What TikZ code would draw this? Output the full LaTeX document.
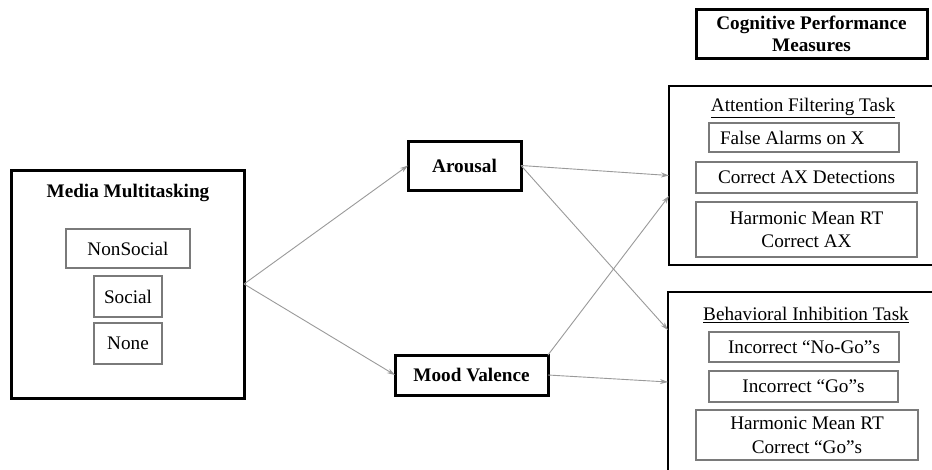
\documentclass[tikz,border=0pt]{standalone}
\usepackage{fontspec}
\setmainfont{Liberation Serif}
\usetikzlibrary{arrows.meta}
\definecolor{boxgray}{HTML}{7A7A7A}
\definecolor{arrgray}{HTML}{9A9A9A}
\begin{document}
\begin{tikzpicture}[x=1pt,y=-1pt,
  every node/.style={font=\fontsize{19.2}{23.5}\selectfont, inner sep=0pt, outer sep=0pt},
  thickbox/.style={draw=black, line width=3pt, font=\fontsize{19.2}{22}\selectfont\bfseries},
  thinbox/.style={draw=boxgray, line width=1.4pt},
  bigbox/.style={draw=black, line width=2.2pt},
  conn/.style={draw=arrgray, line width=0.9pt, -{Stealth[length=8pt,width=5pt]}},
  ]
\useasboundingbox (0,0) rectangle (932,469);
\clip (0,0) rectangle (932,469);
\fill[white] (0,0) rectangle (932,469);

% left block
\node[thickbox, minimum width=233pt, minimum height=228pt] (media) at (127.5,284) {};
\node[font=\fontsize{19.2}{22}\selectfont\bfseries] (mediat) at (128,193) {Media Multitasking};
\node[thinbox, minimum width=124pt, minimum height=39pt] (nonsoc) at (128,248.5) {NonSocial};
\node[thinbox, minimum width=68pt, minimum height=41pt] (soc) at (128,296.5) {Social};
\node[thinbox, minimum width=68pt, minimum height=41pt] (none) at (128,343.5) {None};

% mediators
\node[thickbox, minimum width=113pt, minimum height=49pt] (arousal) at (464.5,165.5) {Arousal};
\node[thickbox, minimum width=153pt, minimum height=40pt] (mood) at (471.5,375) {Mood Valence};

% right column
\node[thickbox, minimum width=231pt, minimum height=49pt, align=center] (cpm) at (811.5,33.5) {Cognitive Performance\\Measures};

\node[bigbox, minimum width=276pt, minimum height=179pt] (attn) at (807,175.5) {};
\node (attnt) at (803,108) {\underline{Attention Filtering Task}};
\node[thinbox, minimum width=190pt, minimum height=29pt] (fa) at (804,137.5) {};
\node[anchor=west] (fat) at ([xshift=11pt]fa.west) {False Alarms on X};
\node[thinbox, minimum width=221pt, minimum height=31pt] (cax) at (806.5,177.5) {Correct AX Detections};
\node[thinbox, minimum width=221pt, minimum height=55pt, align=center] (hax) at (806.5,229.5) {Harmonic Mean RT\\Correct AX};

\node[bigbox, minimum width=277pt, minimum height=198pt] (beh) at (806.5,391) {};
\node (beht) at (806,315) {\underline{Behavioral Inhibition Task}};
\node[thinbox, minimum width=190pt, minimum height=30pt] (nogo) at (804,347) {Incorrect “No-Go”s};
\node[thinbox, minimum width=189pt, minimum height=31pt] (go) at (803.5,386.5) {Incorrect “Go”s};
\node[thinbox, minimum width=222pt, minimum height=50pt, align=center] (hgo) at (807,435) {Harmonic Mean RT\\Correct “Go”s};

% connectors
\draw[conn] (media.east) -- (arousal.west);
\draw[conn] (media.east) -- (mood.west);
\draw[conn] (arousal.east) -- (attn.west);
\draw[conn] (arousal.east) -- ([yshift=61pt]beh.west);
\draw[conn] (mood.north east) -- ([yshift=-20.5pt]attn.west);
\draw[conn] (mood.east) -- ([yshift=9pt]beh.west);
\end{tikzpicture}
\end{document}
